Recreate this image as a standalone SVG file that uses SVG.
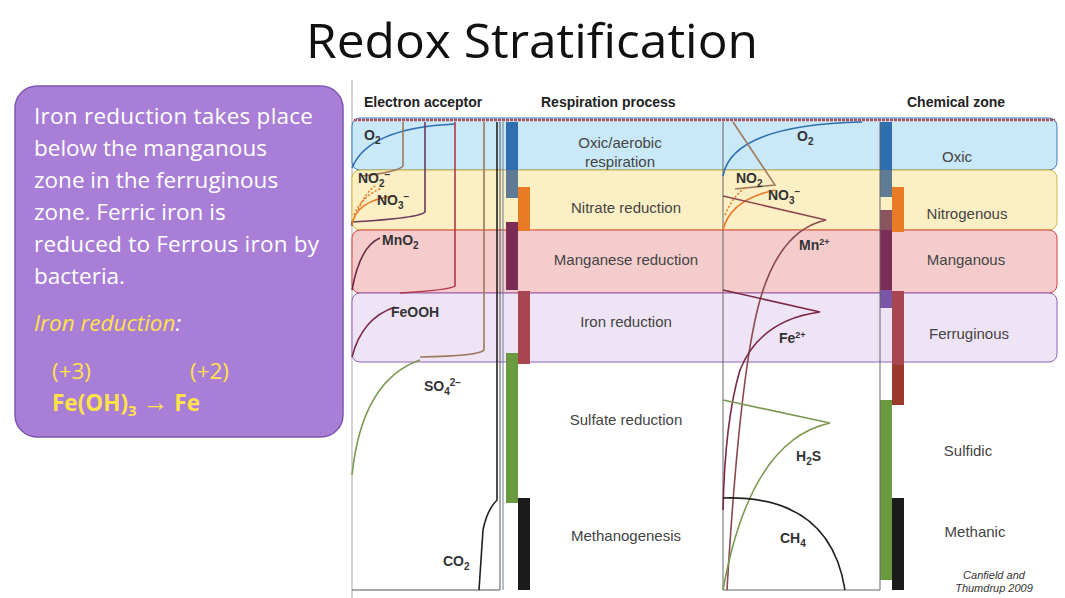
<svg xmlns="http://www.w3.org/2000/svg" width="1065" height="598" viewBox="0 0 1065 598">
<style>
.t{font-family:"Open Sans","Liberation Sans",sans-serif;font-size:22.5px;fill:#fff}
.y{fill:#ffe14a}
.h{font-family:"Liberation Sans",sans-serif;font-size:14px;font-weight:bold;fill:#222}
.p{font-family:"Liberation Sans",sans-serif;font-size:15px;fill:#444;text-anchor:middle}
.c{font-family:"Liberation Sans",sans-serif;font-size:14px;font-weight:bold;fill:#333}
.cur{fill:none;stroke-width:1.6}
</style>
<rect width="1065" height="598" fill="#fff"/>
<text x="532" y="58" text-anchor="middle" font-family="Open Sans,Liberation Sans,sans-serif" font-size="48" fill="#111" textLength="452" lengthAdjust="spacingAndGlyphs">Redox Stratification</text>
<g id="callout">
<rect x="15" y="86" width="328" height="351" rx="22" fill="#a87ed6" stroke="#7e57b0" stroke-width="1.5"/>
<text class="t" x="34" y="124" textLength="279">Iron reduction takes place</text>
<text class="t" x="34" y="156">below the manganous</text>
<text class="t" x="34" y="188">zone in the ferruginous</text>
<text class="t" x="34" y="220">zone. Ferric iron is</text>
<text class="t" x="34" y="252" textLength="285">reduced to Ferrous iron by</text>
<text class="t" x="34" y="284">bacteria.</text>
<text class="t y" x="34" y="331" font-style="italic">Iron reduction<tspan fill="#fff">:</tspan></text>
<text class="t y" x="52" y="379">(+3)</text>
<text class="t y" x="190" y="379">(+2)</text>
<text class="t y" x="52" y="411" font-weight="bold">Fe(OH)<tspan font-size="15" dy="5">3</tspan><tspan dy="-5"> <tspan font-size="26">→</tspan> Fe</tspan></text>
</g>
<g id="figure">
<rect x="352" y="80" width="706" height="518" fill="#fff"/>
<line x1="352" y1="80" x2="352" y2="598" stroke="#aaa"/>
<text class="h" x="364" y="107">Electron acceptor</text>
<text class="h" x="541" y="107">Respiration process</text>
<text class="h" x="907" y="107">Chemical zone</text>
</g>
<g id="bands">
<rect x="352" y="118" width="705" height="52" rx="8" fill="#c9e8f8" stroke="#3c78b8"/>
<rect x="352" y="170" width="705" height="60" rx="8" fill="#fcefc4" stroke="#d6b63c"/>
<rect x="352" y="230" width="705" height="63" rx="8" fill="#f4cccc" stroke="#d64040"/>
<rect x="352" y="293" width="705" height="69" rx="8" fill="#efe3f6" stroke="#8f60b8"/>
<line x1="354" y1="120" x2="1055" y2="120" stroke="#b0525a" stroke-width="2.5" stroke-dasharray="3 1"/>
</g>
<g id="bars">
<rect x="506" y="122" width="12" height="48" fill="#2f6fb0"/>
<rect x="506" y="170" width="12" height="28" fill="#607c94"/>
<rect x="506" y="222" width="12" height="68" fill="#7a2d56"/>
<rect x="506" y="353" width="12" height="150" fill="#6a9a3f"/>
<rect x="518" y="187" width="12" height="44" fill="#ea7b26"/>
<rect x="518" y="291" width="12" height="73" fill="#a8464f"/>
<rect x="518" y="498" width="12" height="92" fill="#1b1b1b"/>
<rect x="880" y="122" width="12" height="48" fill="#2f6fb0"/>
<rect x="880" y="170" width="12" height="27" fill="#607c94"/>
<rect x="880" y="210" width="12" height="20" fill="#8a5460"/>
<rect x="880" y="230" width="12" height="60" fill="#7a2d56"/>
<rect x="880" y="290" width="12" height="18" fill="#7a56a8"/>
<rect x="880" y="400" width="12" height="180" fill="#6a9a3f"/>
<rect x="892" y="187" width="12" height="45" fill="#ea7b26"/>
<rect x="892" y="291" width="12" height="74" fill="#a8464f"/>
<rect x="892" y="365" width="12" height="40" fill="#9b3a2c"/>
<rect x="892" y="498" width="12" height="92" fill="#1b1b1b"/>
</g>
<g id="connectors">
<line x1="500" y1="122" x2="500" y2="590" stroke="#555"/>
<line x1="503" y1="122" x2="503" y2="590" stroke="#6a7a9a"/>
<line x1="352" y1="590" x2="500" y2="590" stroke="#555"/>
<line x1="723" y1="122" x2="723" y2="590" stroke="#666"/>
<line x1="880" y1="122" x2="880" y2="590" stroke="#666"/>
<line x1="723" y1="590" x2="880" y2="590" stroke="#666"/>
<path class="cur" stroke="#2f6fb0" d="M352,168 Q368,128 455,124"/>
<path class="cur" stroke="#a07a60" d="M403,122 L403,166 Q398,172 362,176"/>
<path class="cur" stroke="#6b3a5c" d="M425,122 L425,212 Q420,218 352,222 L352,226"/>
<path class="cur" stroke="#e87a2a" d="M352,225 Q356,200 395,196"/>
<path class="cur" stroke="#e87a2a" stroke-dasharray="2 2" d="M354,215 Q362,196 382,188 M358,210 Q366,192 375,186"/>
<path class="cur" stroke="#b03a4a" d="M455,122 L455,286 Q450,290 400,293"/>
<path class="cur" stroke="#6b2a44" d="M352,290 Q360,246 380,238"/>
<path class="cur" stroke="#9a7a5a" d="M484,122 L484,350 Q480,356 420,357"/>
<path class="cur" stroke="#7a2a44" d="M352,357 Q362,318 395,307"/>
<path class="cur" stroke="#7a9a50" d="M352,475 Q362,380 420,360"/>
<path class="cur" stroke="#222" d="M497,122 L497,500 Q487,510 483,530 L479,590"/>
<path class="cur" stroke="#2f6fb0" d="M723,176 Q732,125 862,122"/>
<path class="cur" stroke="#a07a60" d="M733,122 L775,185 L735,189"/>
<path class="cur" stroke="#e87a2a" d="M723,230 Q730,200 775,190"/>
<path class="cur" stroke="#e87a2a" stroke-dasharray="2 2" d="M725,215 Q733,196 745,188"/>
<path class="cur" stroke="#8a4a50" d="M723,196 L826,220 Q780,230 760,300 Q740,370 727,590"/>
<path class="cur" stroke="#7a2a44" d="M723,290 L820,312 Q760,320 740,370 Q725,420 723,510"/>
<path class="cur" stroke="#7a9a50" d="M723,400 L830,423 Q750,440 723,590"/>
<path class="cur" stroke="#222" d="M723,498 Q830,495 845,590"/>
</g>
<g id="labels">
<text class="c" x="364" y="140">O<tspan font-size="10" dy="4">2</tspan></text>
<text class="c" x="358" y="183">NO<tspan font-size="10" dy="4">2</tspan><tspan font-size="10" dy="-9">−</tspan></text>
<text class="c" x="377" y="205">NO<tspan font-size="10" dy="4">3</tspan><tspan font-size="10" dy="-9">−</tspan></text>
<text class="c" x="382" y="245">MnO<tspan font-size="10" dy="4">2</tspan></text>
<text class="c" x="391" y="317">FeOOH</text>
<text class="c" x="424" y="391">SO<tspan font-size="10" dy="4">4</tspan><tspan font-size="10" dy="-9">2−</tspan></text>
<text class="c" x="443" y="566">CO<tspan font-size="10" dy="4">2</tspan></text>
<text class="c" x="797" y="141">O<tspan font-size="10" dy="4">2</tspan></text>
<text class="c" x="736" y="183">NO<tspan font-size="10" dy="4">2</tspan></text>
<text class="c" x="768" y="200">NO<tspan font-size="10" dy="4">3</tspan><tspan font-size="10" dy="-9">−</tspan></text>
<text class="c" x="799" y="250">Mn<tspan font-size="9" dy="-5">2+</tspan></text>
<text class="c" x="779" y="343">Fe<tspan font-size="9" dy="-5">2+</tspan></text>
<text class="c" x="796" y="461">H<tspan font-size="10" dy="4">2</tspan><tspan dy="-4">S</tspan></text>
<text class="c" x="780" y="543">CH<tspan font-size="10" dy="4">4</tspan></text>
<text class="p" x="620" y="148">Oxic/aerobic</text>
<text class="p" x="620" y="167">respiration</text>
<text class="p" x="626" y="213">Nitrate reduction</text>
<text class="p" x="626" y="265">Manganese reduction</text>
<text class="p" x="626" y="327">Iron reduction</text>
<text class="p" x="626" y="425">Sulfate reduction</text>
<text class="p" x="626" y="541">Methanogenesis</text>
<text class="p" x="957" y="162">Oxic</text>
<text class="p" x="967" y="219">Nitrogenous</text>
<text class="p" x="966" y="265">Manganous</text>
<text class="p" x="969" y="339">Ferruginous</text>
<text class="p" x="968" y="456">Sulfidic</text>
<text class="p" x="975" y="537">Methanic</text>
<text x="994" y="579" text-anchor="middle" font-family="Liberation Sans,sans-serif" font-size="11" font-style="italic" fill="#333">Canfield and</text>
<text x="994" y="592" text-anchor="middle" font-family="Liberation Sans,sans-serif" font-size="11" font-style="italic" fill="#333">Thumdrup 2009</text>
</g>
</svg>
